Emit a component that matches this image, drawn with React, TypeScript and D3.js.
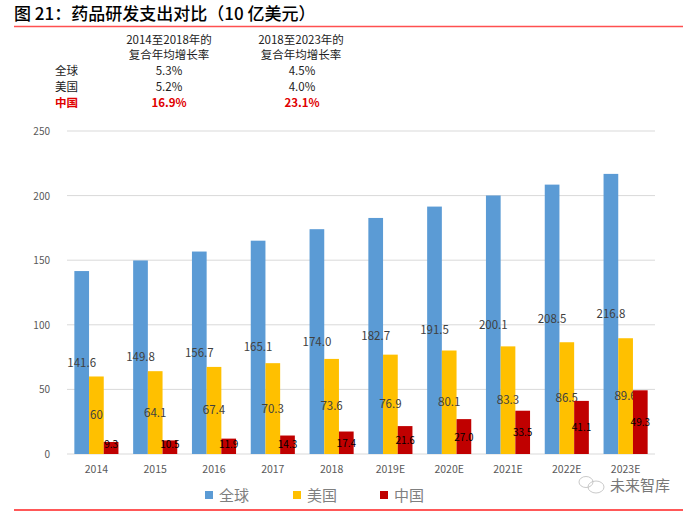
import * as d3 from 'd3';

const years = ['2014', '2015', '2016', '2017', '2018', '2019E', '2020E', '2021E', '2022E', '2023E'];
const globalSpend = [141.6, 149.8, 156.7, 165.1, 174.0, 182.7, 191.5, 200.1, 208.5, 216.8];
const usSpend = [60, 64.1, 67.4, 70.3, 73.6, 76.9, 80.1, 83.3, 86.5, 89.6];
const chinaSpend = [9.3, 10.5, 11.9, 14.3, 17.4, 21.6, 27.0, 33.5, 41.1, 49.3];
const usLabels = ['60', '64.1', '67.4', '70.3', '73.6', '76.9', '80.1', '83.3', '86.5', '89.6'];

const seriesNames = ['全球', '美国', '中国'];
const seriesColors = ['#5B9BD5', '#FFC000', '#C00000'];

const cagrHeaders = [['2014至2018年的', '复合年均增长率'], ['2018至2023年的', '复合年均增长率']];
const cagrRows = [
  { name: '全球', a: '5.3%', b: '4.5%' },
  { name: '美国', a: '5.2%', b: '4.0%' },
  { name: '中国', a: '16.9%', b: '23.1%' },
];

const yTicks = [0, 50, 100, 150, 200, 250];
const font = '"Noto Sans CJK SC", "Noto Sans", sans-serif';

export default function App() {
  const width = 700;
  const height = 511;
  const left = 67;
  const right = 655;
  const top = 131;
  const bottom = 454;

  const x = d3.scaleBand().domain(years).range([left, right]).paddingInner(0.25).paddingOuter(0.125);
  const sub = d3.scaleBand().domain(['0', '1', '2']).range([0, x.bandwidth()]);
  const y = d3.scaleLinear().domain([0, 250]).range([bottom, top]);

  const series = [globalSpend, usSpend, chinaSpend];

  return (
    <svg width={width} height={height} style={{ position: 'absolute', left: 0, top: 0, background: '#fff' }}>
      <text x={14} y={20} fontFamily={font} fontSize={17} fontWeight={500} fill="#000">
        图 21：药品研发支出对比（10 亿美元）
      </text>
      <line x1={14} x2={683} y1={26.5} y2={26.5} stroke="#FF5050" strokeWidth={1.5} />

      {cagrHeaders.map((h, i) => (
        <g key={i} fontFamily={font} fontSize={11.5} fill="#222" textAnchor="middle">
          <text x={i === 0 ? 169 : 301} y={44}>{h[0]}</text>
          <text x={i === 0 ? 169 : 301} y={59}>{h[1]}</text>
        </g>
      ))}
      {cagrRows.map((r, i) => {
        const red = r.name === '中国';
        return (
          <g key={r.name} fontFamily={font} fontSize={11.5} fill={red ? '#E00000' : '#222'} fontWeight={red ? 700 : 400}>
            <text x={55} y={75 + i * 16}>{r.name}</text>
            <text x={169} y={75 + i * 16} textAnchor="middle">{r.a}</text>
            <text x={302} y={75 + i * 16} textAnchor="middle">{r.b}</text>
          </g>
        );
      })}

      {yTicks.map((t) => (
        <g key={t}>
          <line x1={left} x2={right} y1={y(t)} y2={y(t)} stroke="#D9D9D9" strokeWidth={1} />
          <text x={50} y={y(t) + 4} textAnchor="end" fontFamily={font} fontSize={10} fill="#595959">
            {t}
          </text>
        </g>
      ))}

      {years.map((yr, i) => (
        <g key={yr}>
          {series.map((s, k) => {
            const bx = (x(yr) ?? 0) + (sub(String(k)) ?? 0);
            const bw = sub.bandwidth();
            const yt = y(s[i]);
            const mid = Math.min((yt + bottom) / 2, bottom - 10);
            const label = k === 1 ? usLabels[i] : s[i].toFixed(1);
            return (
              <g key={k}>
                <rect x={bx} y={yt} width={bw} height={bottom - yt} fill={seriesColors[k]} />
                <text
                  x={bx + bw / 2}
                  y={mid + 4}
                  textAnchor="middle"
                  fontFamily={font}
                  fontSize={k === 2 ? 10 : 11.5}
                  fill={k === 2 ? '#000' : '#404040'}
                >
                  {label}
                </text>
              </g>
            );
          })}
          <text x={(x(yr) ?? 0) + x.bandwidth() / 2} y={473} textAnchor="middle" fontFamily={font} fontSize={10.5} fill="#595959">
            {yr}
          </text>
        </g>
      ))}

      {seriesNames.map((n, k) => {
        const lx = [205, 293, 380][k];
        return (
          <g key={n}>
            <rect x={lx} y={491} width={8} height={8} fill={seriesColors[k]} />
            <text x={lx + 14} y={501} fontFamily={font} fontSize={15} fill="#7F7F7F">
              {n}
            </text>
          </g>
        );
      })}

      <g stroke="#BBB" fill="none" strokeWidth={0.8}>
        <ellipse cx={596} cy={487} rx={8} ry={6} />
        <ellipse cx={586} cy={482} rx={7} ry={5.5} />
      </g>
      <text x={610} y={491} fontFamily={font} fontSize={15} fill="#777">
        未来智库
      </text>

      <line x1={14} x2={683} y1={510} y2={510} stroke="#FF2020" strokeWidth={1.5} />
    </svg>
  );
}
